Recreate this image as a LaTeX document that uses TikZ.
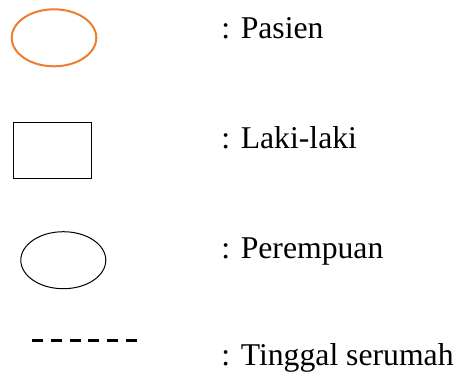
\documentclass[tikz,border=0pt]{standalone}
\usepackage{fontspec}
\setmainfont{Liberation Serif}
\usepackage{xcolor}
\definecolor{oorange}{HTML}{ED7D31}
\usepackage{tikz}
\usetikzlibrary{shapes.geometric}
\usetikzlibrary{positioning}

\begin{document}
\begin{tikzpicture}[
    	x=0.5pt, y=-0.5pt,
    	pasienshape/.style={ellipse,draw=oorange,line width=1pt,minimum width=42.3pt,minimum height=28.5pt,inner sep=0pt},
    	lakishape/.style={rectangle,draw=black,line width=0.5pt,minimum width=39pt,minimum height=28pt,inner sep=0pt},
    	puanshape/.style={ellipse,draw=black,line width=0.5pt,minimum width=42.5pt,minimum height=28.5pt,inner sep=0pt},
    	serumah/.style={line width=1.2pt,dash pattern=on 5.5pt off 3.85pt},
    	keterangan/.style={anchor=base west,inner sep=0pt,font=\fontsize{15.85}{19}\selectfont},
    ]
    \path[use as bounding box] (0,0) rectangle (458,376);
    % simbol
    \node[pasienshape] (pasien) at (54,37.8) {};
    \node[lakishape] (lakilaki) at (52.5,150) {};
    \node[puanshape] (perempuan) at (63.3,260.2) {};
    \coordinate (serumahA) at (32.3,340.5);
    \coordinate (serumahB) at (137,340.5);
    \draw[serumah] (serumahA) -- (serumahB);
    % keterangan
    \node[keterangan] (lblPasien) at (221,38) {: Pasien};
    \node[keterangan] (lblLaki) at (221,148) {: Laki-laki};
    \node[keterangan] (lblPuan) at (221,258) {: Perempuan};
    \node[keterangan] (lblSerumah) at (221,365) {: Tinggal serumah};
    \end{tikzpicture}
\end{document}
